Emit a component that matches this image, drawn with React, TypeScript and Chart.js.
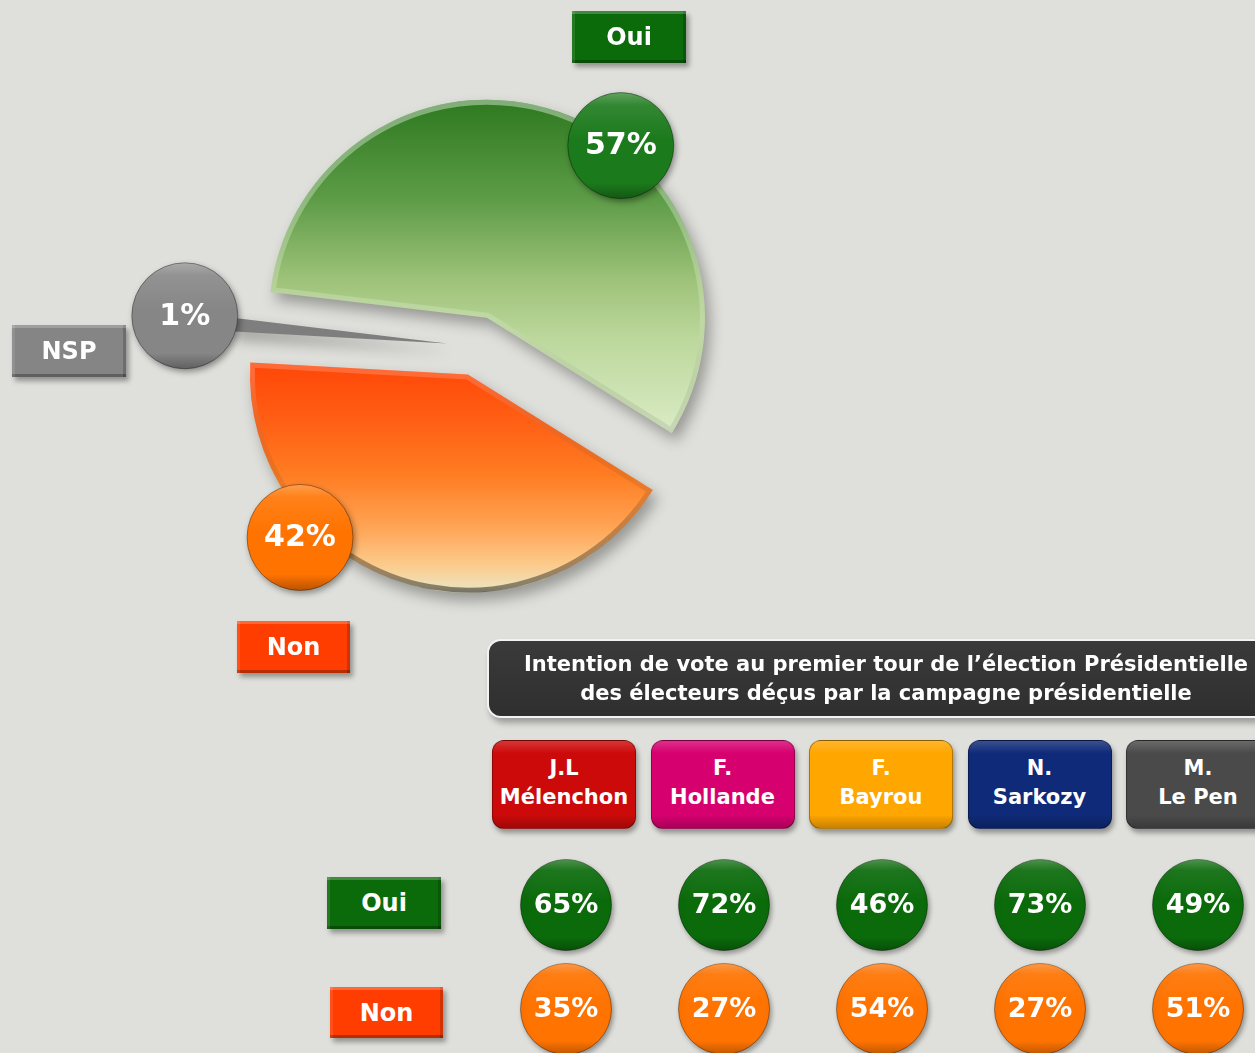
import React, { useEffect, useRef } from 'react';
import { Chart, registerables } from 'chart.js';

Chart.register(...registerables);

// ---------- data ----------
const pieLabels = ['Oui', 'Non', 'NSP'];
const pieValues = [57, 42, 1];

const titleLines = [
  'Intention de vote au premier tour de l’élection Présidentielle',
  'des électeurs déçus par la campagne présidentielle',
];
const candidateFirst = ['J.L', 'F.', 'F.', 'N.', 'M.'];
const candidateLast = ['Mélenchon', 'Hollande', 'Bayrou', 'Sarkozy', 'Le Pen'];
const rowLabels = ['Oui', 'Non'];
const ouiValues = [65, 72, 46, 73, 49];
const nonValues = [35, 27, 54, 27, 51];

// ---------- style ----------
const FONT = '"DejaVu Sans", Verdana, sans-serif';
const BG = '#dfe0db';
const EXPLODE = 30;
const PIE_RADIUS = 218;
const PIE_ROTATION = -83.2;
const badgeColors = ['#1b7a1b', '#ff7300', '#868686'];
const badgeAnchors = [
  { frac: 0.59, k: 1.0 },
  { frac: 0.687, k: 1.073 },
  { frac: 0.78, k: 1.21 },
];
const candidateColors = ['#cc0a0a', '#d6006f', '#ffa600', '#0f2a78', '#4a4a4a'];
const rowColors = ['#0b6b0b', '#ff7300'];
const tagGreen = '#0b6b0b';
const tagOrange = '#ff3d00';
const tagGray = '#858585';

function drawBadge(ctx: CanvasRenderingContext2D, x: number, y: number, r: number, color: string, text: string, fontSize: number) {
  ctx.save();
  ctx.shadowColor = 'rgba(0,0,0,0.4)';
  ctx.shadowBlur = 6;
  ctx.shadowOffsetX = 2;
  ctx.shadowOffsetY = 3;
  ctx.beginPath();
  ctx.arc(x, y, r, 0, Math.PI * 2);
  ctx.fillStyle = color;
  ctx.fill();
  ctx.restore();
  ctx.save();
  const g = ctx.createLinearGradient(0, y - r, 0, y + r);
  g.addColorStop(0, 'rgba(255,255,255,0.30)');
  g.addColorStop(0.12, 'rgba(255,255,255,0.10)');
  g.addColorStop(0.45, 'rgba(255,255,255,0)');
  g.addColorStop(0.85, 'rgba(0,0,0,0)');
  g.addColorStop(1, 'rgba(0,0,0,0.28)');
  ctx.beginPath();
  ctx.arc(x, y, r, 0, Math.PI * 2);
  ctx.fillStyle = g;
  ctx.fill();
  ctx.lineWidth = 1;
  ctx.strokeStyle = 'rgba(0,0,0,0.35)';
  ctx.stroke();
  ctx.fillStyle = '#ffffff';
  ctx.font = `bold ${fontSize}px ${FONT}`;
  ctx.textAlign = 'center';
  ctx.textBaseline = 'middle';
  ctx.fillText(text, x, y + 1);
  ctx.restore();
}

const pieDecor = {
  id: 'pieDecor',
  afterDatasetUpdate(chart: any) {
    const meta = chart.getDatasetMeta(0);
    meta.data.forEach((arc: any) => {
      const mid = (arc.startAngle + arc.endAngle) / 2;
      arc.x += Math.cos(mid) * EXPLODE;
      arc.y += Math.sin(mid) * EXPLODE;
    });
  },
  beforeDatasetsDraw(chart: any) {
    const ctx = chart.ctx;
    ctx.save();
    ctx.shadowColor = 'rgba(0,0,0,0.32)';
    ctx.shadowBlur = 14;
    ctx.shadowOffsetX = 5;
    ctx.shadowOffsetY = 8;
  },
  afterDatasetsDraw(chart: any) {
    const ctx = chart.ctx;
    ctx.restore();
    const meta = chart.getDatasetMeta(0);
    meta.data.forEach((arc: any, i: number) => {
      if (i === 2) return;
      const { x, y, startAngle, endAngle, outerRadius } = arc;
      ctx.save();
      ctx.beginPath();
      ctx.moveTo(x, y);
      ctx.arc(x, y, outerRadius, startAngle, endAngle);
      ctx.closePath();
      ctx.clip();
      const g = ctx.createLinearGradient(0, y - outerRadius, 0, y + outerRadius);
      g.addColorStop(0, 'rgba(255,255,255,0.40)');
      g.addColorStop(0.5, 'rgba(255,255,255,0.18)');
      g.addColorStop(0.75, 'rgba(0,0,0,0.08)');
      g.addColorStop(1, 'rgba(0,0,0,0.45)');
      ctx.lineWidth = 10;
      ctx.lineJoin = 'miter';
      ctx.strokeStyle = g;
      ctx.stroke();
      ctx.restore();
    });
    meta.data.forEach((arc: any, i: number) => {
      const a = badgeAnchors[i];
      const ang = arc.startAngle + a.frac * (arc.endAngle - arc.startAngle);
      const d = arc.outerRadius * a.k;
      const bx = arc.x + Math.cos(ang) * d;
      const by = arc.y + Math.sin(ang) * d;
      drawBadge(ctx, bx, by, 53, badgeColors[i], `${pieValues[i]}%`, 30);
    });
  },
};

const bubbleDecor = {
  id: 'bubbleDecor',
  beforeDatasetsDraw(chart: any) {
    const ctx = chart.ctx;
    ctx.save();
    ctx.shadowColor = 'rgba(0,0,0,0.35)';
    ctx.shadowBlur = 5;
    ctx.shadowOffsetX = 2;
    ctx.shadowOffsetY = 3;
  },
  afterDatasetsDraw(chart: any) {
    const ctx = chart.ctx;
    ctx.restore();
    chart.data.datasets.forEach((ds: any, di: number) => {
      const meta = chart.getDatasetMeta(di);
      meta.data.forEach((pt: any, i: number) => {
        const r = pt.options.radius;
        const x = pt.x;
        const y = pt.y;
        ctx.save();
        const g = ctx.createLinearGradient(0, y - r, 0, y + r);
        g.addColorStop(0, 'rgba(255,255,255,0.28)');
        g.addColorStop(0.12, 'rgba(255,255,255,0.08)');
        g.addColorStop(0.45, 'rgba(255,255,255,0)');
        g.addColorStop(0.85, 'rgba(0,0,0,0)');
        g.addColorStop(1, 'rgba(0,0,0,0.25)');
        ctx.beginPath();
        ctx.arc(x, y, r, 0, Math.PI * 2);
        ctx.fillStyle = g;
        ctx.fill();
        ctx.fillStyle = '#ffffff';
        ctx.font = `bold 27px ${FONT}`;
        ctx.textAlign = 'center';
        ctx.textBaseline = 'middle';
        ctx.fillText(`${ds.data[i].v}%`, x, y + 1);
        ctx.restore();
      });
    });
  },
};

function pieFill(context: any) {
  const c = context.chart.ctx as CanvasRenderingContext2D;
  const i = context.dataIndex;
  if (i === 0) {
    const g = c.createLinearGradient(0, 102, 0, 440);
    g.addColorStop(0, '#2e7a20');
    g.addColorStop(0.29, '#5e9c48');
    g.addColorStop(0.53, '#9fc37a');
    g.addColorStop(0.7, '#bcd89c');
    g.addColorStop(1, '#dcecc8');
    return g;
  }
  if (i === 1) {
    const g = c.createLinearGradient(0, 362, 0, 598);
    g.addColorStop(0, '#ff4608');
    g.addColorStop(0.25, '#ff5f14');
    g.addColorStop(0.48, '#ff7d22');
    g.addColorStop(0.7, '#ffa455');
    g.addColorStop(0.86, '#fccb8c');
    g.addColorStop(0.95, '#eee0b8');
    g.addColorStop(1, '#c4c2a6');
    return g;
  }
  return '#7e7e7e';
}

function PieChart() {
  const ref = useRef<HTMLCanvasElement>(null);
  useEffect(() => {
    const chart = new Chart(ref.current!, {
      type: 'pie',
      data: {
        labels: pieLabels,
        datasets: [
          {
            data: pieValues,
            backgroundColor: pieFill as any,
            borderWidth: 0,
          },
        ],
      },
      options: {
        responsive: false,
        animation: false,
        devicePixelRatio: 1,
        radius: PIE_RADIUS,
        rotation: PIE_ROTATION,
        layout: { padding: 0 },
        events: [],
        plugins: { legend: { display: false }, tooltip: { enabled: false } },
      } as any,
      plugins: [pieDecor as any],
    });
    return () => chart.destroy();
  }, []);
  return <canvas ref={ref} width={954} height={692} style={{ position: 'absolute', left: 0, top: 0 }} />;
}

function TableChart() {
  const ref = useRef<HTMLCanvasElement>(null);
  useEffect(() => {
    const rows = [ouiValues, nonValues];
    const chart = new Chart(ref.current!, {
      type: 'bubble',
      data: {
        datasets: rowLabels.map((row, ri) => ({
          label: row,
          data: candidateLast.map((c, i) => ({ x: c, y: row, v: rows[ri][i] })),
          backgroundColor: rowColors[ri],
          borderColor: 'rgba(0,0,0,0.35)',
          borderWidth: 1,
          radius: 45.5,
          clip: false,
        })),
      },
      options: {
        responsive: false,
        animation: false,
        devicePixelRatio: 1,
        layout: { padding: 0, autoPadding: false },
        events: [],
        scales: {
          x: { type: 'category', labels: candidateLast, offset: true, display: false },
          y: { type: 'category', labels: rowLabels, offset: true, display: false },
        },
        plugins: { legend: { display: false }, tooltip: { enabled: false } },
      } as any,
      plugins: [bubbleDecor as any],
    });
    return () => chart.destroy();
  }, []);
  return <canvas ref={ref} width={790} height={208} style={{ position: 'absolute', left: 487, top: 853 }} />;
}

const bevel =
  'inset 0 3px 0 rgba(255,255,255,0.22), inset 3px 0 0 rgba(255,255,255,0.10), inset 0 -3px 0 rgba(0,0,0,0.28), inset -3px 0 0 rgba(0,0,0,0.18), 3px 4px 5px rgba(0,0,0,0.35)';

function Tag({ left, top, width, height, bg, text }: any) {
  return (
    <div
      style={{
        position: 'absolute',
        left,
        top,
        width,
        height,
        background: bg,
        boxShadow: bevel,
        color: '#fff',
        fontWeight: 'bold',
        fontSize: 24,
        fontFamily: FONT,
        display: 'flex',
        alignItems: 'center',
        justifyContent: 'center',
      }}
    >
      {text}
    </div>
  );
}

export default function App() {
  return (
    <div
      style={{
        position: 'absolute',
        left: 0,
        top: 0,
        width: 1255,
        height: 1053,
        overflow: 'hidden',
        background: BG,
        fontFamily: FONT,
      }}
    >
      <PieChart />
      <TableChart />
      <Tag left={572} top={11} width={114} height={52} bg={tagGreen} text={pieLabels[0]} />
      <Tag left={12} top={325} width={114} height={52} bg={tagGray} text={pieLabels[2]} />
      <Tag left={237} top={621} width={113} height={52} bg={tagOrange} text={pieLabels[1]} />
      <Tag left={327} top={877} width={114} height={52} bg={tagGreen} text={rowLabels[0]} />
      <Tag left={330} top={987} width={113} height={51} bg={tagOrange} text={rowLabels[1]} />
      <div
        style={{
          position: 'absolute',
          left: 489,
          top: 641,
          width: 794,
          height: 75,
          boxSizing: 'border-box',
          borderRadius: 12,
          background: 'linear-gradient(to bottom, #3a3a3a 0%, #2f2f2f 100%)',
          boxShadow: '0 0 0 2px #f3f3f3, 3px 5px 6px 2px rgba(0,0,0,0.3)',
          color: '#fff',
          fontWeight: 'bold',
          fontSize: 21,
          lineHeight: '29px',
          display: 'flex',
          flexDirection: 'column',
          alignItems: 'center',
          justifyContent: 'center',
          whiteSpace: 'nowrap',
        }}
      >
        {titleLines.map((t) => (
          <div key={t}>{t}</div>
        ))}
      </div>
      {candidateLast.map((name, i) => (
        <div
          key={name}
          style={{
            position: 'absolute',
            left: 492 + i * 158.5,
            top: 740,
            width: 144,
            height: 89,
            boxSizing: 'border-box',
            borderRadius: 12,
            background: `linear-gradient(to bottom, rgba(255,255,255,0.18) 0%, rgba(255,255,255,0) 14%, rgba(0,0,0,0) 85%, rgba(0,0,0,0.22) 100%), ${candidateColors[i]}`,
            border: '1px solid rgba(0,0,0,0.3)',
            boxShadow: '2px 4px 5px rgba(0,0,0,0.35)',
            color: '#fff',
            fontWeight: 'bold',
            fontSize: 21,
            lineHeight: '29px',
            display: 'flex',
            flexDirection: 'column',
            alignItems: 'center',
            justifyContent: 'center',
            paddingBottom: 4,
            whiteSpace: 'nowrap',
          }}
        >
          <div>{candidateFirst[i]}</div>
          <div>{name}</div>
        </div>
      ))}
    </div>
  );
}
